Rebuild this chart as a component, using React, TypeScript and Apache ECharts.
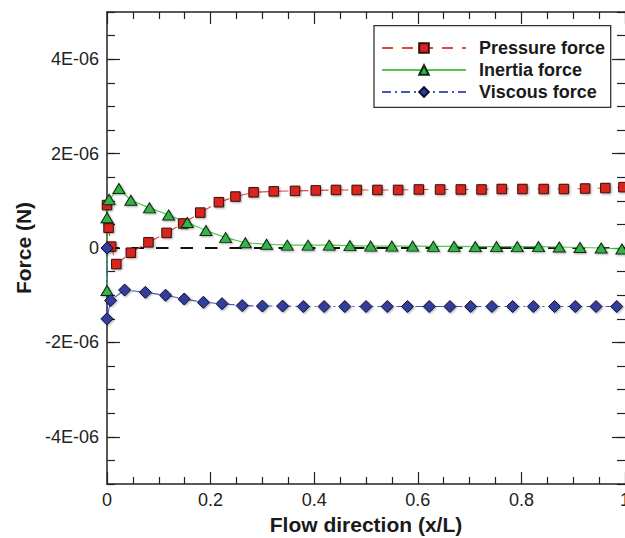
import React, { useEffect, useRef } from "react";
import * as echarts from "echarts";

// Axial position along the channel (x/L) and force values in units of 1E-06 N
const pressureX = [0, 0.003, 0.008, 0.018, 0.046, 0.08, 0.115, 0.147, 0.18, 0.216, 0.248, 0.283, 0.322, 0.363, 0.403, 0.442, 0.482, 0.522, 0.562, 0.602, 0.643, 0.683, 0.723, 0.762, 0.802, 0.843, 0.882, 0.923, 0.962, 0.997];
const pressureForce = [0.91, 0.43, 0.03, -0.34, -0.1, 0.12, 0.32, 0.52, 0.75, 0.97, 1.09, 1.18, 1.2, 1.21, 1.22, 1.23, 1.23, 1.23, 1.23, 1.24, 1.24, 1.24, 1.24, 1.25, 1.25, 1.25, 1.25, 1.26, 1.27, 1.29];

const inertiaX = [0, 0, 0.004, 0.023, 0.046, 0.082, 0.119, 0.155, 0.191, 0.229, 0.267, 0.308, 0.348, 0.388, 0.429, 0.469, 0.509, 0.55, 0.59, 0.63, 0.67, 0.711, 0.752, 0.792, 0.833, 0.873, 0.913, 0.954, 0.994];
const inertiaForce = [-0.9, 0.64, 1.03, 1.26, 1.01, 0.85, 0.7, 0.54, 0.37, 0.22, 0.11, 0.08, 0.06, 0.06, 0.06, 0.05, 0.04, 0.04, 0.04, 0.035, 0.035, 0.03, 0.03, 0.03, 0.03, 0.02, 0.01, 0.0, -0.02];

const viscousX = [0, 0, 0.007, 0.034, 0.074, 0.113, 0.149, 0.186, 0.222, 0.261, 0.3, 0.339, 0.379, 0.419, 0.459, 0.5, 0.541, 0.58, 0.622, 0.662, 0.702, 0.743, 0.783, 0.823, 0.864, 0.904, 0.944, 0.984];
const viscousForce = [0, -1.5, -1.11, -0.89, -0.94, -1.0, -1.08, -1.15, -1.18, -1.22, -1.23, -1.23, -1.24, -1.24, -1.24, -1.24, -1.24, -1.24, -1.24, -1.24, -1.24, -1.24, -1.24, -1.24, -1.24, -1.24, -1.24, -1.24];

const zeroLineX = [0, 1];
const zeroLineY = [0, 0];

const seriesNames = ["Pressure force", "Inertia force", "Viscous force"];
const yMajorTicks = [-4, -2, 0, 2, 4];

const FONT = "'Liberation Sans', Arial, Helvetica, sans-serif";
const INK = "#222";

const pairs = (xs: number[], ys: number[]) => xs.map((x, i) => [x, ys[i]]);
const yLabel = (v: number) => (Math.abs(v) < 1e-9 ? "0" : `${v}E-06`);

const markerShadow = {
  shadowColor: "rgba(0,0,0,0.35)",
  shadowBlur: 2,
  shadowOffsetX: 1,
  shadowOffsetY: 1,
};

export default function App() {
  const ref = useRef<HTMLDivElement>(null);

  useEffect(() => {
    document.body.style.margin = "0";
    if (!ref.current) return;
    const chart = echarts.init(ref.current, null, { renderer: "svg" });

    const tickLine = { color: INK, width: 1.2 };
    const frameLine = { show: true, onZero: false, lineStyle: { color: INK, width: 1.5 } };

    const xCommon = {
      type: "value" as const,
      min: 0,
      max: 1,
      interval: 0.2,
      splitLine: { show: false },
      axisTick: { show: true, inside: true, length: 12, lineStyle: tickLine },
      minorTick: { show: true, splitNumber: 4, length: 7, lineStyle: tickLine },
    };

    const yMinorAxis = {
      type: "value" as const,
      min: -5,
      max: 5,
      interval: 0.5,
      splitLine: { show: false },
      axisTick: { show: true, inside: true, length: 8, lineStyle: tickLine },
    };

    const yMajorAxis = {
      type: "value" as const,
      min: -5,
      max: 5,
      interval: 0.5,
      splitLine: { show: false },
      axisLine: { show: false, onZero: false },
      axisLabel: { show: false },
      axisTick: {
        show: true,
        inside: true,
        length: 13,
        customValues: yMajorTicks,
        lineStyle: tickLine,
      },
    };

    chart.setOption({
      animation: false,
      backgroundColor: "#fff",
      textStyle: { fontFamily: FONT },
      grid: {
        left: 107,
        top: 12,
        right: 0,
        bottom: 54,
        containLabel: false,
        outerBoundsMode: "none",
      },
      xAxis: [
        {
          ...xCommon,
          position: "bottom",
          name: "Flow direction (x/L)",
          nameLocation: "middle",
          nameGap: 27,
          nameTextStyle: { fontSize: 21, fontWeight: "bold", color: "#1a1a1a", fontFamily: FONT },
          axisLine: frameLine,
          axisLabel: { fontSize: 18, color: INK, margin: 7, fontFamily: FONT },
        },
        {
          ...xCommon,
          position: "top",
          axisLine: frameLine,
          axisLabel: { show: false },
        },
      ],
      yAxis: [
        {
          ...yMinorAxis,
          position: "left",
          name: "Force (N)",
          nameLocation: "middle",
          nameGap: 72,
          nameTextStyle: { fontSize: 21, fontWeight: "bold", color: "#1a1a1a", fontFamily: FONT },
          axisLine: frameLine,
          axisLabel: {
            fontSize: 18,
            color: INK,
            margin: 8,
            fontFamily: FONT,
            customValues: yMajorTicks,
            formatter: (v: number) => yLabel(v),
          },
        },
        { ...yMajorAxis, position: "left" },
        {
          ...yMinorAxis,
          position: "right",
          axisLine: { show: false, onZero: false },
          axisLabel: { show: false },
        },
        { ...yMajorAxis, position: "right" },
      ],
      legend: {
        data: seriesNames,
        orient: "vertical",
        left: 381,
        top: 39,
        padding: 0,
        itemWidth: 84,
        itemHeight: 12,
        itemGap: 4,
        textStyle: {
          fontSize: 18,
          fontWeight: "bold",
          color: "#1a1a1a",
          fontFamily: FONT,
          lineHeight: 18,
          padding: [0, 0, 0, 8],
        },
      },
      graphic: [
        {
          type: "rect",
          z: 3,
          shape: { x: 374, y: 25.7, width: 236.7, height: 81.6 },
          style: { fill: "#fff", stroke: "#333", lineWidth: 1.3 },
        },
      ],
      series: [
        {
          name: "zero",
          type: "line",
          data: pairs(zeroLineX, zeroLineY),
          symbol: "none",
          silent: true,
          lineStyle: { color: "#111", width: 2, type: [12.5, 12] },
          z: 2,
        },
        {
          name: seriesNames[0],
          type: "line",
          data: pairs(pressureX, pressureForce),
          symbol: "rect",
          symbolSize: 9.5,
          lineStyle: { color: "#e2463e", width: 1.1, type: [11, 9] },
          itemStyle: { color: "#d8261e", borderColor: "#3a0d0d", borderWidth: 1, ...markerShadow },
          z: 3,
        },
        {
          name: seriesNames[1],
          type: "line",
          data: pairs(inertiaX, inertiaForce),
          symbol: "triangle",
          symbolSize: [12, 10],
          lineStyle: { color: "#4cc94c", width: 1.1 },
          itemStyle: { color: "#36b34a", borderColor: "#0e2a10", borderWidth: 1, ...markerShadow },
          z: 3,
        },
        {
          name: seriesNames[2],
          type: "line",
          data: pairs(viscousX, viscousForce),
          symbol: "diamond",
          symbolSize: 12,
          lineStyle: { color: "#4a55b8", width: 1.1, type: [9, 4, 2, 4] },
          itemStyle: { color: "#323c9c", borderColor: "#0c0f2e", borderWidth: 1, ...markerShadow },
          z: 3,
        },
      ],
    });

    return () => chart.dispose();
  }, []);

  return <div ref={ref} style={{ width: 625, height: 538 }} />;
}
